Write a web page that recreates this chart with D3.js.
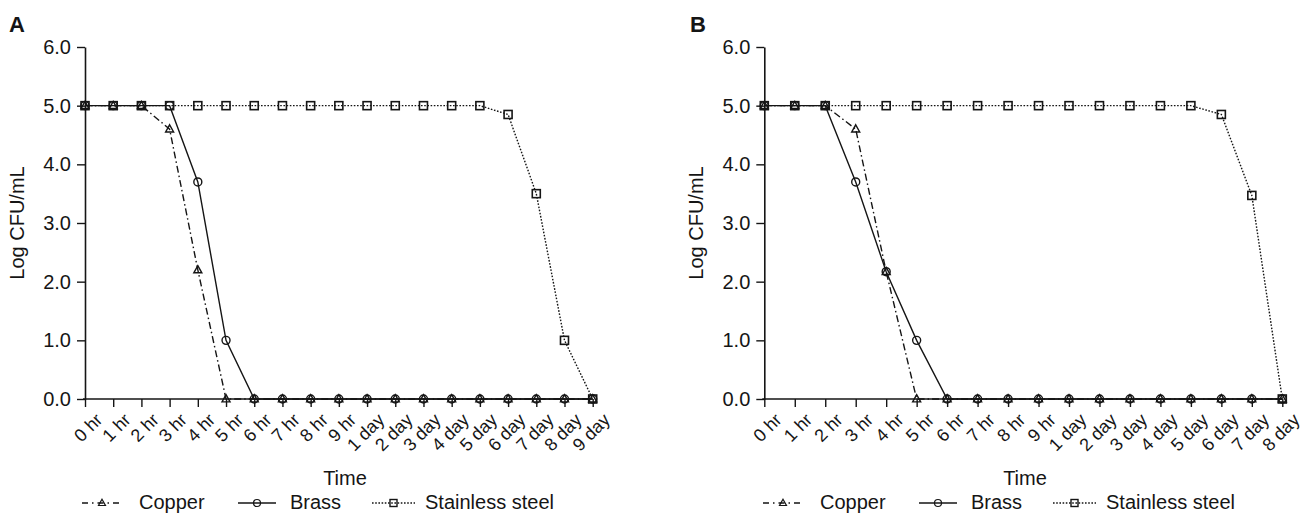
<!DOCTYPE html>
<html>
<head>
<meta charset="utf-8">
<script src="https://cdn.jsdelivr.net/npm/d3@7"></script>
<style>
  html, body { margin: 0; padding: 0; background: #fff; }
  svg { display: block; font-family: "Liberation Sans", Arial, sans-serif; }
</style>
</head>
<body>
<svg id="chart" width="1312" height="514"></svg>
<script>
// ---------- DATA ----------
const categoriesA = ["0 hr","1 hr","2 hr","3 hr","4 hr","5 hr","6 hr","7 hr","8 hr","9 hr",
  "1 day","2 day","3 day","4 day","5 day","6 day","7 day","8 day","9 day"];
const copperA    = [5,5,5,4.6,2.2,0,0,0,0,0,0,0,0,0,0,0,0,0,0];
const brassA     = [5,5,5,5,3.7,1.0,0,0,0,0,0,0,0,0,0,0,0,0,0];
const stainlessA = [5,5,5,5,5,5,5,5,5,5,5,5,5,5,5,4.85,3.5,1.0,0];

const categoriesB = ["0 hr","1 hr","2 hr","3 hr","4 hr","5 hr","6 hr","7 hr","8 hr","9 hr",
  "1 day","2 day","3 day","4 day","5 day","6 day","7 day","8 day"];
const copperB    = [5,5,5,4.6,2.17,0,0,0,0,0,0,0,0,0,0,0,0,0];
const brassB     = [5,5,5,3.7,2.17,1.0,0,0,0,0,0,0,0,0,0,0,0,0];
const stainlessB = [5,5,5,5,5,5,5,5,5,5,5,5,5,5,5,4.85,3.47,0];

const yTicks = [0,1,2,3,4,5,6];
const seriesNames = ["Copper","Brass","Stainless steel"];
const panelLabels = ["A","B"];
const yTitle = "Log CFU/mL";
const xTitle = "Time";

// ---------- STYLE ----------
const ink = "#151515";
const styles = {
  "Copper":          { dash: "7,3,1.5,3", legendDash: "6,4,1.5,4", marker: "triangle" },
  "Brass":           { dash: null,        legendDash: null,        marker: "circle" },
  "Stainless steel": { dash: "1.6,1.6",   legendDash: "1.6,1.6",   marker: "square" }
};

const panels = [
  { label: panelLabels[0], cats: categoriesA, data: [copperA, brassA, stainlessA],
    x0: 85, x1: 592.7, labelX: 9, timeX: 345, legendX: 82 },
  { label: panelLabels[1], cats: categoriesB, data: [copperB, brassB, stainlessB],
    x0: 764.3, x1: 1282.3, labelX: 690, timeX: 1025, legendX: 763 }
];

const svg = d3.select("#chart");
const yTop = 47, yBot = 399;

function drawMarker(g, type, cx, cy, s, sw) {
  if (type === "circle") {
    g.append("circle").attr("cx", cx).attr("cy", cy).attr("r", s / 2)
      .attr("fill", "none").attr("stroke", ink).attr("stroke-width", sw);
  } else if (type === "square") {
    g.append("rect").attr("x", cx - s / 2).attr("y", cy - s / 2)
      .attr("width", s).attr("height", s)
      .attr("fill", "none").attr("stroke", ink).attr("stroke-width", sw + 0.2);
  } else {
    const h = s * 0.9;
    g.append("path")
      .attr("d", `M${cx},${cy - h * 0.6}L${cx + s / 2},${cy + h * 0.4}L${cx - s / 2},${cy + h * 0.4}Z`)
      .attr("fill", "none").attr("stroke", ink).attr("stroke-width", sw);
  }
}

panels.forEach(p => {
  const x = d3.scalePoint().domain(p.cats).range([p.x0, p.x1]);
  const y = d3.scaleLinear().domain([0, 6]).range([yBot, yTop]);
  const g = svg.append("g");

  // panel letter
  g.append("text").attr("x", p.labelX).attr("y", 32)
    .attr("font-size", 22).attr("font-weight", "bold").attr("fill", ink).text(p.label);

  // y axis
  const ya = g.append("g").attr("transform", `translate(${p.x0},0)`)
    .call(d3.axisLeft(y).tickValues(yTicks).tickFormat(d3.format(".1f"))
      .tickSize(8).tickSizeOuter(0).tickPadding(6));
  ya.select(".domain").attr("stroke", ink).attr("stroke-width", 1.6);
  ya.selectAll(".tick line").attr("stroke", ink).attr("stroke-width", 1.4);
  ya.selectAll(".tick text").attr("font-size", 20).attr("fill", ink)
    .attr("font-family", "Liberation Sans, Arial, sans-serif");

  // x axis
  const xa = g.append("g").attr("transform", `translate(0,${yBot})`)
    .call(d3.axisBottom(x).tickSize(8).tickSizeOuter(0));
  xa.select(".domain").attr("stroke", ink).attr("stroke-width", 1.6)
    .attr("d", `M${p.x0 - 2},0H${p.x1}`);
  xa.selectAll(".tick line").attr("stroke", ink).attr("stroke-width", 1.4);
  xa.selectAll(".tick text")
    .attr("font-size", 18).attr("fill", ink)
    .attr("font-family", "Liberation Sans, Arial, sans-serif")
    .attr("y", null).attr("dy", null)
    .attr("text-anchor", "end")
    .attr("transform", "translate(18,22) rotate(-45)");

  // axis titles
  g.append("text").attr("transform", `translate(${p.x0 - 61},${(yTop + yBot) / 2}) rotate(-90)`)
    .attr("text-anchor", "middle").attr("font-size", 20).attr("fill", ink).text(yTitle);
  g.append("text").attr("x", p.timeX).attr("y", 485)
    .attr("text-anchor", "middle").attr("font-size", 20).attr("fill", ink).text(xTitle);

  // series lines
  const line = d3.line().x((d, i) => x(p.cats[i])).y(d => y(d));
  seriesNames.forEach((name, si) => {
    const st = styles[name];
    g.append("path").datum(p.data[si]).attr("d", line)
      .attr("fill", "none").attr("stroke", ink).attr("stroke-width", 1.4)
      .attr("stroke-dasharray", st.dash);
  });
  // markers
  seriesNames.forEach((name, si) => {
    const st = styles[name];
    const mg = g.append("g");
    p.data[si].forEach((v, i) => drawMarker(mg, st.marker, x(p.cats[i]), y(v), 8, 1.4));
  });

  // legend
  const legendItems = [
    { name: seriesNames[0], lx: 0,   len: 40, tx: 57 },
    { name: seriesNames[1], lx: 156, len: 38, tx: 208 },
    { name: seriesNames[2], lx: 290, len: 43, tx: 343 }
  ];
  const lg = g.append("g").attr("transform", `translate(${p.legendX},0)`);
  legendItems.forEach(it => {
    const st = styles[it.name];
    const ly = 503;
    lg.append("line").attr("x1", it.lx).attr("x2", it.lx + it.len)
      .attr("y1", ly).attr("y2", ly)
      .attr("stroke", ink).attr("stroke-width", 1.3)
      .attr("stroke-dasharray", st.legendDash);
    drawMarker(lg, st.marker, it.lx + it.len / 2, ly, 7, 1.2);
    lg.append("text").attr("x", it.tx).attr("y", 509)
      .attr("font-size", 20).attr("fill", ink).text(it.name);
  });
});
</script>
</body>
</html>
